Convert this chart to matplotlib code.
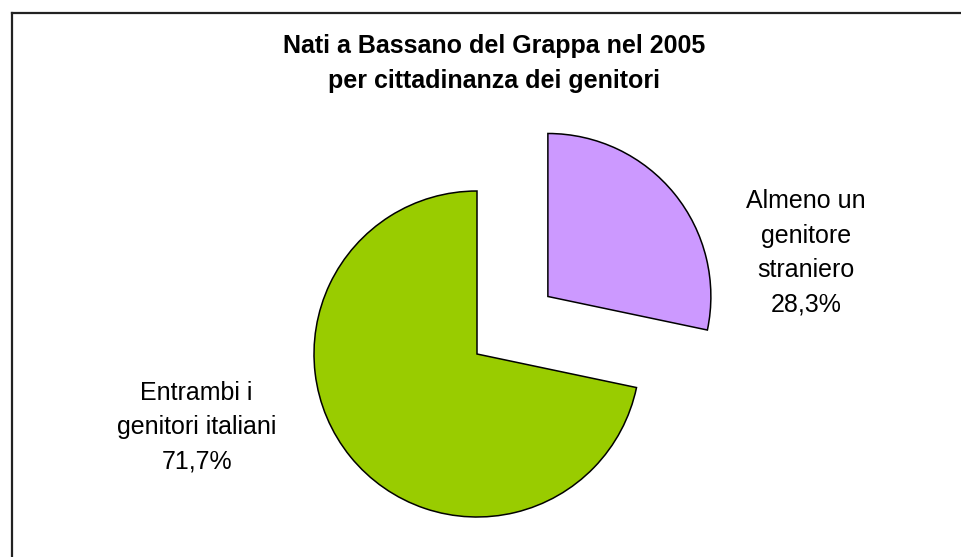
import matplotlib
matplotlib.use("Agg")
import matplotlib.pyplot as plt
from matplotlib.lines import Line2D

plt.rcParams['font.family'] = ['Liberation Sans', 'DejaVu Sans']

# dati
categorie = ["Almeno un\ngenitore\nstraniero", "Entrambi i\ngenitori italiani"]
percentuali = [28.3, 71.7]
colori = ["#CC99FF", "#99CC00"]
esplosione = [0.56, 0.0]
titolo = "Nati a Bassano del Grappa nel 2005\nper cittadinanza dei genitori"

W, H = 961, 557
fig = plt.figure(figsize=(W / 100, H / 100), dpi=100)

# axes over the whole figure, 163 px per unit, pie centre at (477, 354) px
R = 163.0
cx, cy = 477.0, 354.0
ax = fig.add_axes([0, 0, 1, 1])

wedges, texts = ax.pie(percentuali, colors=colori, explode=esplosione,
                       startangle=90, counterclock=False,
                       wedgeprops=dict(edgecolor="black", linewidth=1.1),
                       labels=[f"{c}\n{p:.1f}%".replace(".", ",")
                               for c, p in zip(categorie, percentuali)],
                       textprops=dict(fontsize=18, linespacing=1.55))

ax.set_xlim(-cx / R, (W - cx) / R)
ax.set_ylim(-(H - cy) / R, cy / R)
ax.set_aspect("auto")
ax.axis("off")

# label placement (Excel style, outside the slices)
pos = [(2.02, 0.62), (-1.72, -0.45)]
for t, p in zip(texts, pos):
    t.set_position(p)
    t.set_ha("center")
    t.set_va("center")

fig.text(494 / W, 1 - 34 / H, titolo, ha="center", va="top",
         fontsize=18, fontweight="bold", linespacing=1.6)

# chart area border (top and left sides visible)
fig.add_artist(Line2D([12 / W, 1], [1 - 12.5 / H, 1 - 12.5 / H],
                      color="#222222", linewidth=1.6))
fig.add_artist(Line2D([12 / W, 12 / W], [0, 1 - 12.5 / H],
                      color="#222222", linewidth=1.6))

fig.savefig("out.png", dpi=100, facecolor="white")
